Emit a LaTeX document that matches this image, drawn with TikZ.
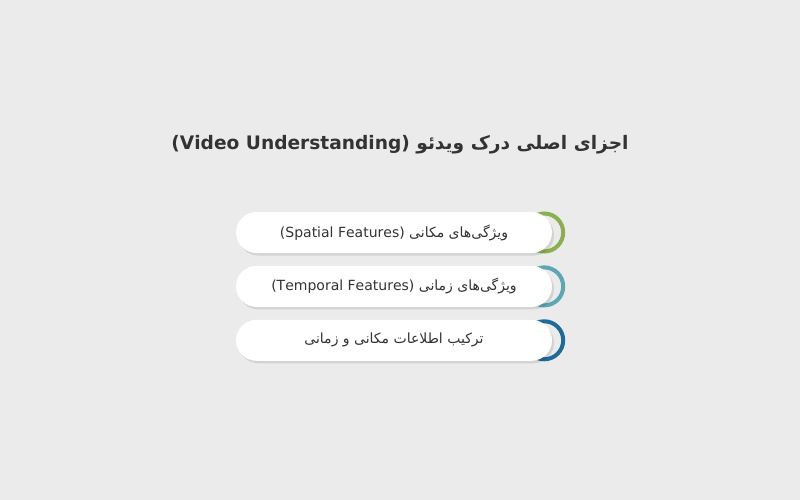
\documentclass[tikz,border=0pt]{standalone}
\usepackage{fontspec}
\usetikzlibrary{calc,positioning,shadows}
\TeXXeTstate=1
\newfontfamily\farsi[Script=Arabic]{DejaVu Sans}
\definecolor{bggray}{HTML}{EBEBEB}
\definecolor{textgray}{HTML}{333333}
\definecolor{spatialgreen}{HTML}{8AAF4F}
\definecolor{temporalteal}{HTML}{5BA7B3}
\definecolor{fusionblue}{HTML}{1E6A98}
\pgfdeclarelayer{back}
\pgfsetlayers{back,main}

\begin{document}
\begin{tikzpicture}[x=1pt,y=1pt,
		pill/.style={rectangle, rounded corners=20.5pt, fill=white, minimum width=316pt, minimum height=41pt, inner sep=0pt, text=textgray, font=\farsi\fontsize{14}{16}\selectfont, drop shadow={shadow xshift=2pt, shadow yshift=-2.5pt, opacity=0.10, fill=black}},
		ring/.style={circle, minimum size=38pt, inner sep=0pt, line width=4pt}]
		\useasboundingbox (0,0) rectangle (800,-500);
		\node [text=textgray, font=\farsi\bfseries\fontsize{18.6}{22}\selectfont] (title) at (400,-145) {\beginR اجزای اصلی درک ویدئو \beginL(Video Understanding)\endL\endR};
		\node [pill] (spatial) at (394,-232.5) {\beginR ویژگی‌های مکانی \beginL(Spatial Features)\endL\endR};
		\node [pill, below=12.5pt of spatial] (temporal) {\beginR ویژگی‌های زمانی \beginL(Temporal Features)\endL\endR};
		\node [pill, below=12.5pt of temporal] (fusion) {\beginR ترکیب اطلاعات مکانی و زمانی\endR};
		\begin{pgfonlayer}{back}
		\fill [bggray] (0,0) rectangle (800,-500);
		\node [ring, draw=spatialgreen] (spatialring) at ($(spatial.east)+(-8,0)$) {};
		\node [ring, draw=temporalteal] (temporalring) at ($(temporal.east)+(-8,0)$) {};
		\node [ring, draw=fusionblue] (fusionring) at ($(fusion.east)+(-8,0)$) {};
		\end{pgfonlayer}
		\end{tikzpicture}
\end{document}
